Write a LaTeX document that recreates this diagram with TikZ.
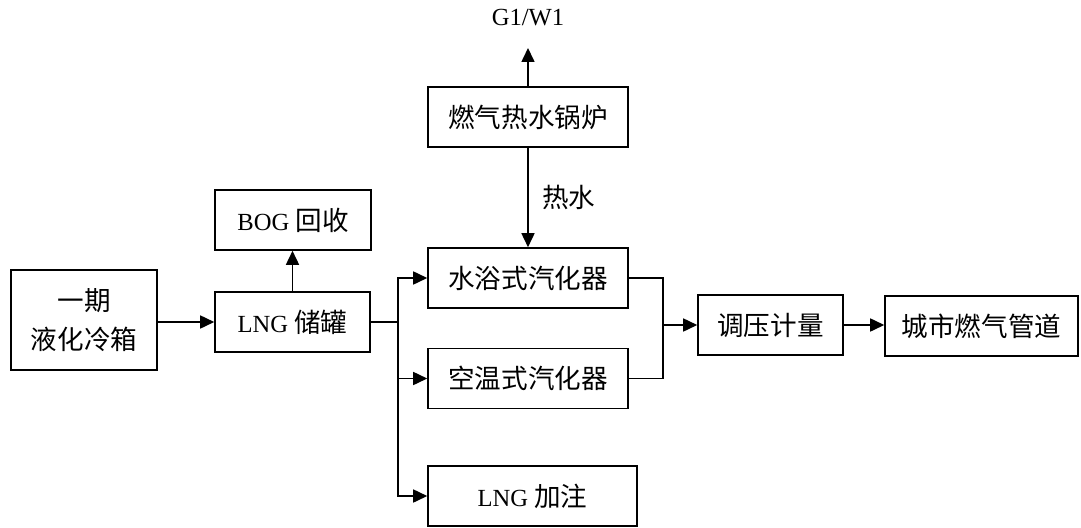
\documentclass[tikz,border=0pt]{standalone}
\usepackage{fontspec}
\setmainfont{Liberation Serif}
\newfontfamily\cjk[Scale=1.08]{Noto Sans CJK SC}
\usetikzlibrary{arrows.meta,positioning,calc}
\tikzset{box/.style={draw,line width=0.9pt,minimum height=1.2cm,inner sep=2pt,font=\fontsize{14}{16}\selectfont},
  arr/.style={line width=0.9pt,-{Triangle[length=2.8mm,width=2.6mm]}},
  ln/.style={line width=0.9pt}}

\begin{document}
\begin{tikzpicture}[x=0.02cm,y=-0.02cm,font=\fontsize{14}{16}\selectfont]
  \useasboundingbox (0,0) rectangle (1081,527);

  \node[box,minimum width=2.92cm,minimum height=2cm,align=center,font=\fontsize{14}{22}\selectfont] (cold) at (84,320) {{\cjk 一期}\\{\cjk 液化冷箱}};
  \node[box,minimum width=3.1cm] (tank) at (292.5,322) {LNG {\cjk 储罐}};
  \node[box,minimum width=3.12cm] (bog) at (293,220) {BOG {\cjk 回收}};
  \node[box,minimum width=4cm] (boiler) at (528,117) {\cjk 燃气热水锅炉};
  \node[box,minimum width=4cm] (water) at (528,278) {\cjk 水浴式汽化器};
  \node[box,minimum width=4cm] (air) at (528,378.5) {\cjk 空温式汽化器};
  \node[box,minimum width=4.18cm] (fill) at (532.5,496) {LNG {\cjk 加注}};
  \node[box,minimum width=2.9cm] (reg) at (770.5,325) {\cjk 调压计量};
  \node[box,minimum width=3.86cm] (city) at (981.5,326) {\cjk 城市燃气管道};

  \coordinate (gw) at (528,48);
  \node[above=3.2mm of gw] (g1) {G1/W1};
  \coordinate (bus) at (398,322);
  \coordinate (mrg) at (663,325);

  \draw[arr] (cold.east |- tank.west) -- (tank.west);
  \draw[arr] (tank.north) -- (tank.north |- bog.south);
  \draw[arr] (boiler.north) -- (gw);
  \draw[arr] (boiler.south) -- node[right=1.5mm] {\cjk 热水} (water.north);

  \draw[ln] (tank.east) -- (bus);
  \draw[arr] (bus) |- (water.west);
  \draw[arr] (bus) |- (air.west);
  \draw[arr] (bus) |- (fill.west);

  \draw[ln] (water.east) -| (mrg);
  \draw[ln] (air.east) -| (mrg);
  \draw[arr] (mrg) -- (reg.west);
  \draw[arr] (reg.east) -- (reg.east -| city.west);
\end{tikzpicture}
\end{document}
